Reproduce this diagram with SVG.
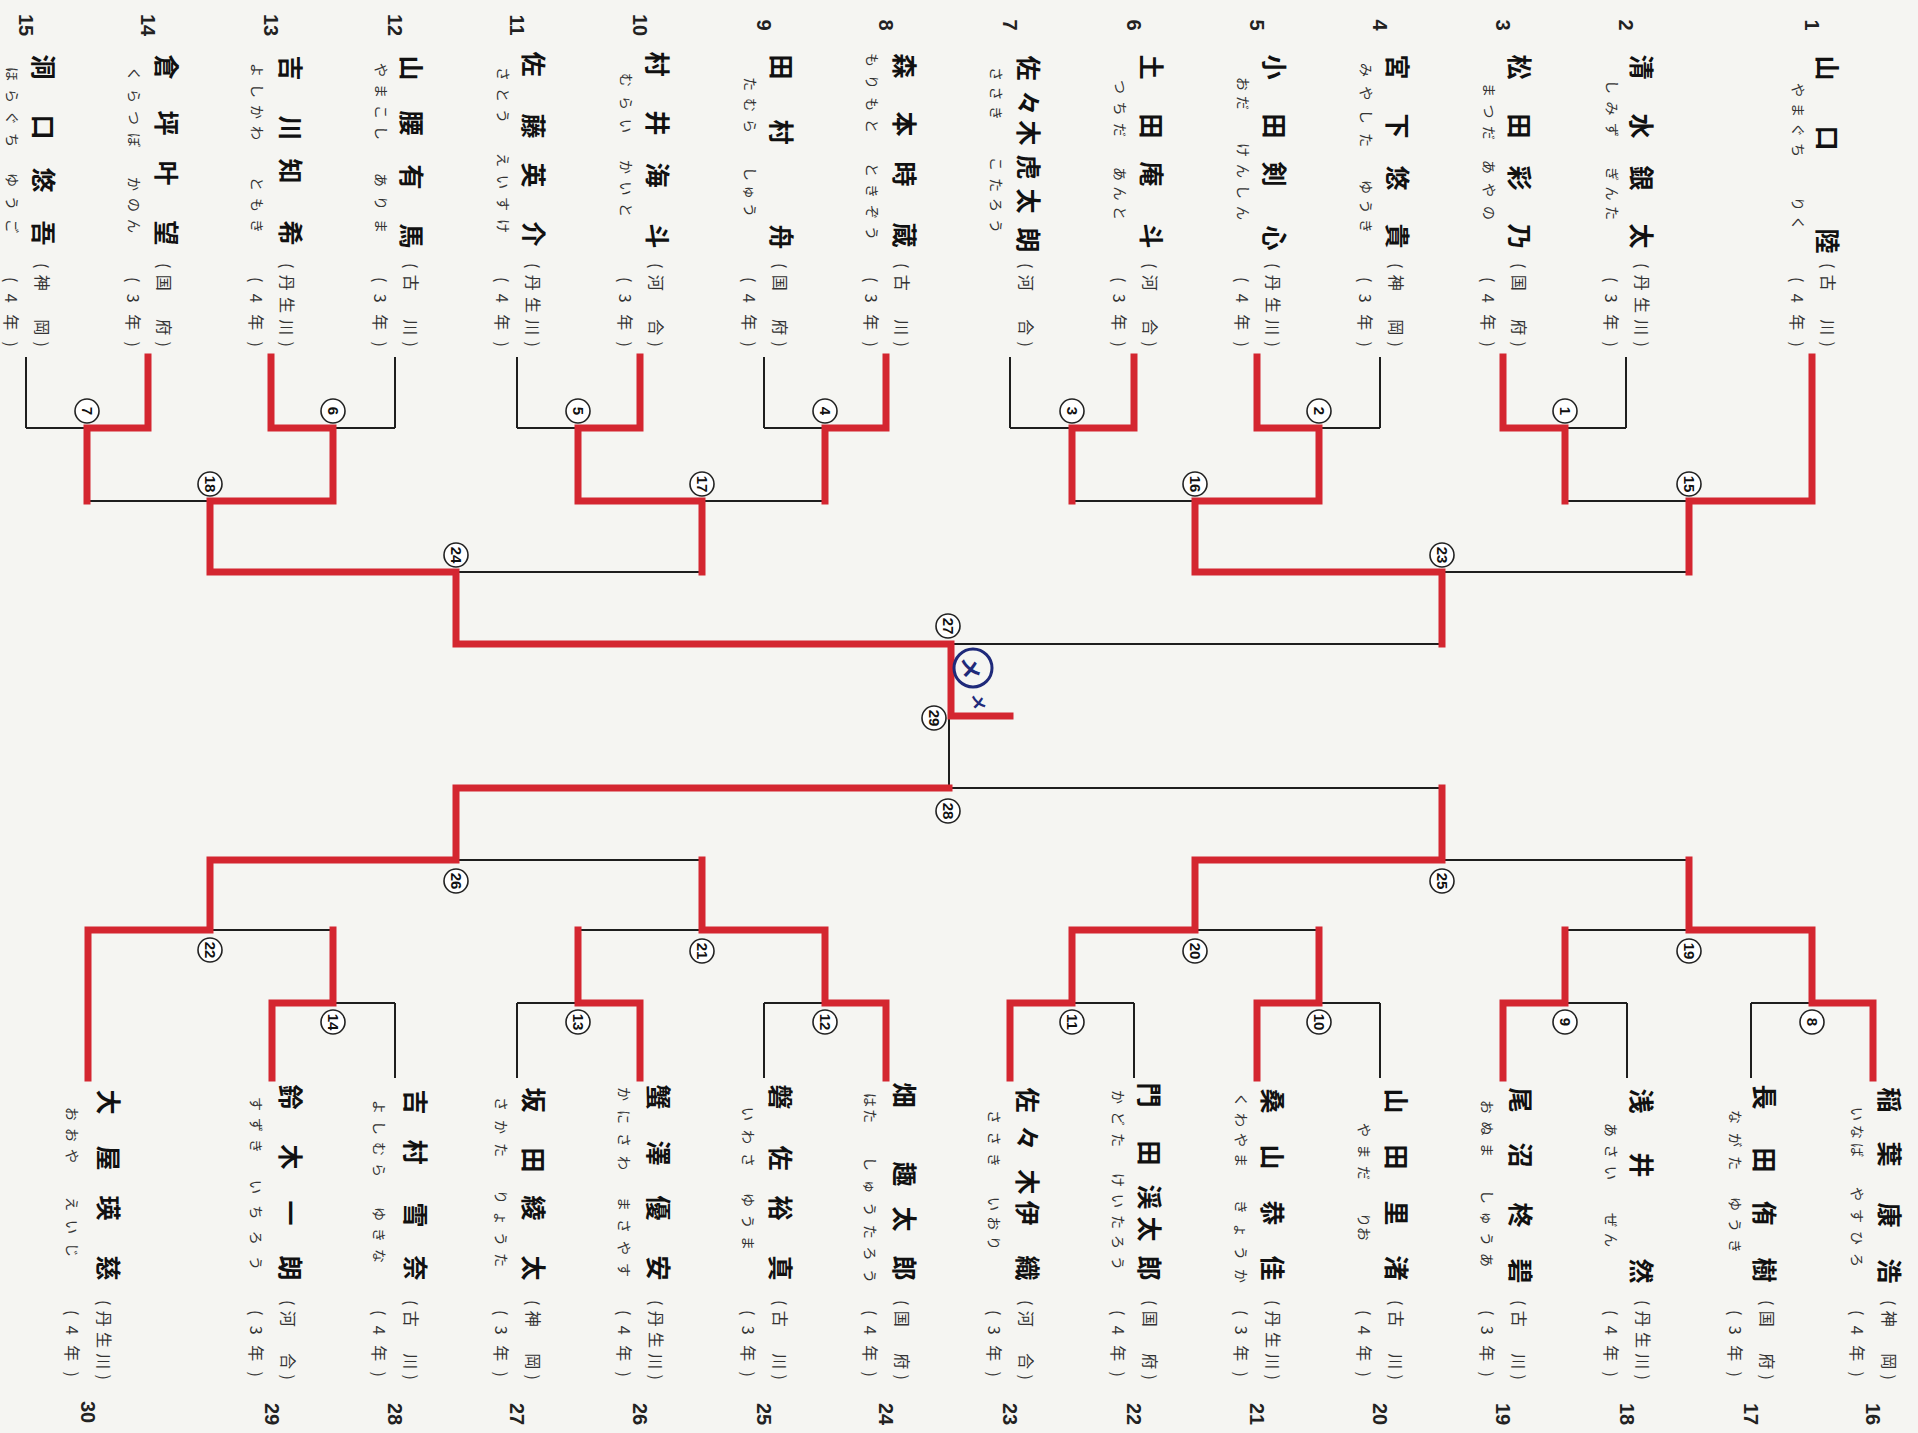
<svg xmlns="http://www.w3.org/2000/svg" width="1918" height="1433" viewBox="0 0 1918 1433">
<style>
.bk{stroke:#1e1e1e;stroke-width:2;fill:none}
.rd{stroke:#d42630;stroke-width:7;fill:none;stroke-linejoin:miter;stroke-linecap:square}
.nm{font-family:"Noto Sans CJK JP","Noto Sans CJK SC",sans-serif;font-size:25px;font-weight:700;text-anchor:middle;dominant-baseline:central;fill:#111}
.fu{font-family:"Noto Sans CJK JP","Noto Sans CJK SC",sans-serif;font-size:14px;dominant-baseline:central;fill:#333}
.sc{font-family:"Noto Sans CJK JP","Noto Sans CJK SC",sans-serif;font-size:16px;dominant-baseline:central;fill:#333}
.no{font-family:"Liberation Sans",Arial,sans-serif;font-size:20px;font-weight:700;text-anchor:middle;dominant-baseline:central;fill:#222}
.cc{fill:#fff;stroke:#222;stroke-width:1.6}
.cn{font-family:"Liberation Sans",Arial,sans-serif;font-size:15px;font-weight:700;text-anchor:middle;dominant-baseline:central;fill:#111}
.bl{fill:none;stroke:#1f2a7a;stroke-width:3}
.bt{font-family:"Noto Sans CJK JP",sans-serif;font-weight:700;text-anchor:middle;dominant-baseline:central;fill:#1f2a7a}
</style>
<rect width="1918" height="1433" fill="#f5f5f2"/>

<g id="connectors">
<path class="bk" d="M26,357V428 M148,357V428 M271,357V428 M395,357V428 M517,357V428 M640,357V428 M764,357V428 M886,357V428 M1010,357V428 M1134,357V428 M1257,357V428 M1380,357V428 M1503,357V428 M1626,357V428 M1812,357V501
M26,428H148 M271,428H395 M517,428H640 M764,428H886 M1010,428H1134 M1257,428H1380 M1503,428H1626
M87,428V501 M333,428V501 M578,428V501 M825,428V501 M1072,428V501 M1319,428V501 M1565,428V501
M87,501H333 M578,501H825 M1072,501H1319 M1565,501H1812
M210,501V572 M702,501V572 M1195,501V572 M1689,501V572
M210,572H702 M1195,572H1689
M456,572V644 M1442,572V644
M456,644H1442
M949,644V788
M272,1078V1003 M395,1078V1003 M517,1078V1003 M640,1078V1003 M764,1078V1003 M886,1078V1003 M1010,1078V1003 M1134,1078V1003 M1257,1078V1003 M1380,1078V1003 M1503,1078V1003 M1627,1078V1003 M1751,1078V1003 M1873,1078V1003 M88,1078V930
M272,1003H395 M517,1003H640 M764,1003H886 M1010,1003H1134 M1257,1003H1380 M1503,1003H1627 M1751,1003H1873
M333,1003V930 M578,1003V930 M825,1003V930 M1072,1003V930 M1319,1003V930 M1565,1003V930 M1812,1003V930
M88,930H333 M578,930H825 M1072,930H1319 M1565,930H1812
M210,930V860 M702,930V860 M1195,930V860 M1689,930V860
M210,860H702 M1195,860H1689
M456,860V788 M1442,860V788
M456,788H1442"/>
<path class="rd" d="M1503,357V428H1565V501"/>
<path class="rd" d="M1257,357V428H1319V501H1195V572H1442V644"/>
<path class="rd" d="M1134,357V428H1072V501"/>
<path class="rd" d="M1812,357V501H1689V572"/>
<path class="rd" d="M886,357V428H825V501"/>
<path class="rd" d="M640,357V428H578V501H702V572"/>
<path class="rd" d="M271,357V428H333V501H210V572H456V644H951V716H1010"/>
<path class="rd" d="M148,357V428H87V501"/>
<path class="rd" d="M1873,1078V1003H1812V930H1689V860"/>
<path class="rd" d="M1503,1078V1003H1565V930"/>
<path class="rd" d="M1257,1078V1003H1319V930"/>
<path class="rd" d="M1010,1078V1003H1072V930H1195V860H1442V788"/>
<path class="rd" d="M886,1078V1003H825V930H702V860"/>
<path class="rd" d="M640,1078V1003H578V930"/>
<path class="rd" d="M272,1078V1003H333V930"/>
<path class="rd" d="M88,1078V930H210V860H456V788H949"/>
</g>

<g id="matches">
<g id="m1"><circle class="cc" cx="1565" cy="411" r="12"/><text class="cn" transform="translate(1565,411) rotate(90)">1</text></g>
<g id="m2"><circle class="cc" cx="1319" cy="411" r="12"/><text class="cn" transform="translate(1319,411) rotate(90)">2</text></g>
<g id="m3"><circle class="cc" cx="1072" cy="411" r="12"/><text class="cn" transform="translate(1072,411) rotate(90)">3</text></g>
<g id="m4"><circle class="cc" cx="825" cy="411" r="12"/><text class="cn" transform="translate(825,411) rotate(90)">4</text></g>
<g id="m5"><circle class="cc" cx="578" cy="411" r="12"/><text class="cn" transform="translate(578,411) rotate(90)">5</text></g>
<g id="m6"><circle class="cc" cx="333" cy="411" r="12"/><text class="cn" transform="translate(333,411) rotate(90)">6</text></g>
<g id="m7"><circle class="cc" cx="87" cy="411" r="12"/><text class="cn" transform="translate(87,411) rotate(90)">7</text></g>
<g id="m15"><circle class="cc" cx="1689" cy="484" r="12"/><text class="cn" transform="translate(1689,484) rotate(90)">15</text></g>
<g id="m16"><circle class="cc" cx="1195" cy="484" r="12"/><text class="cn" transform="translate(1195,484) rotate(90)">16</text></g>
<g id="m17"><circle class="cc" cx="702" cy="484" r="12"/><text class="cn" transform="translate(702,484) rotate(90)">17</text></g>
<g id="m18"><circle class="cc" cx="210" cy="484" r="12"/><text class="cn" transform="translate(210,484) rotate(90)">18</text></g>
<g id="m23"><circle class="cc" cx="1442" cy="555" r="12"/><text class="cn" transform="translate(1442,555) rotate(90)">23</text></g>
<g id="m24"><circle class="cc" cx="456" cy="555" r="12"/><text class="cn" transform="translate(456,555) rotate(90)">24</text></g>
<g id="m27"><circle class="cc" cx="948" cy="626" r="12"/><text class="cn" transform="translate(948,626) rotate(90)">27</text></g>
<g id="m8"><circle class="cc" cx="1812" cy="1022" r="12"/><text class="cn" transform="translate(1812,1022) rotate(90)">8</text></g>
<g id="m9"><circle class="cc" cx="1565" cy="1022" r="12"/><text class="cn" transform="translate(1565,1022) rotate(90)">9</text></g>
<g id="m10"><circle class="cc" cx="1319" cy="1022" r="12"/><text class="cn" transform="translate(1319,1022) rotate(90)">10</text></g>
<g id="m11"><circle class="cc" cx="1072" cy="1022" r="12"/><text class="cn" transform="translate(1072,1022) rotate(90)">11</text></g>
<g id="m12"><circle class="cc" cx="825" cy="1022" r="12"/><text class="cn" transform="translate(825,1022) rotate(90)">12</text></g>
<g id="m13"><circle class="cc" cx="578" cy="1022" r="12"/><text class="cn" transform="translate(578,1022) rotate(90)">13</text></g>
<g id="m14"><circle class="cc" cx="333" cy="1022" r="12"/><text class="cn" transform="translate(333,1022) rotate(90)">14</text></g>
<g id="m19"><circle class="cc" cx="1689" cy="951" r="12"/><text class="cn" transform="translate(1689,951) rotate(90)">19</text></g>
<g id="m20"><circle class="cc" cx="1195" cy="951" r="12"/><text class="cn" transform="translate(1195,951) rotate(90)">20</text></g>
<g id="m21"><circle class="cc" cx="702" cy="951" r="12"/><text class="cn" transform="translate(702,951) rotate(90)">21</text></g>
<g id="m22"><circle class="cc" cx="210" cy="950" r="12"/><text class="cn" transform="translate(210,950) rotate(90)">22</text></g>
<g id="m25"><circle class="cc" cx="1442" cy="881" r="12"/><text class="cn" transform="translate(1442,881) rotate(90)">25</text></g>
<g id="m26"><circle class="cc" cx="456" cy="881" r="12"/><text class="cn" transform="translate(456,881) rotate(90)">26</text></g>
<g id="m28"><circle class="cc" cx="948" cy="811" r="12"/><text class="cn" transform="translate(948,811) rotate(90)">28</text></g>
<g id="m29"><circle class="cc" cx="934" cy="718" r="12"/><text class="cn" transform="translate(934,718) rotate(90)">29</text></g>
</g>

<g id="score">
<circle class="bl" cx="973" cy="668" r="19"/>
<text class="bt" font-size="22" transform="translate(973,668) rotate(90)">メ</text>
<text class="bt" font-size="16" transform="translate(980,702) rotate(90)">メ</text>
</g>

<g id="p1" transform="translate(1812,0) rotate(90)"><text class="no" x="25" y="0">1</text><text class="nm" x="68 138 241" y="-17">山口陸</text><text class="fu" x="83" y="13" textLength="74">やまぐち</text><text class="fu" x="197" y="13" textLength="33">りく</text><text class="sc" x="263" y="-17" textLength="84">(古　川)</text><text class="sc" x="277" y="14" textLength="70">(4年)</text></g>
<g id="p2" transform="translate(1626,0) rotate(90)"><text class="no" x="25" y="0">2</text><text class="nm" x="67 126 178 236" y="-17">清水銀太</text><text class="fu" x="80" y="13" textLength="57">しみず</text><text class="fu" x="167" y="13" textLength="53">ぎんた</text><text class="sc" x="263" y="-17" textLength="84">(丹生川)</text><text class="sc" x="277" y="14" textLength="70">(3年)</text></g>
<g id="p3" transform="translate(1503,0) rotate(90)"><text class="no" x="25" y="0">3</text><text class="nm" x="67 126 178 236" y="-18">松田彩乃</text><text class="fu" x="83" y="13" textLength="57">まつだ</text><text class="fu" x="160" y="13" textLength="60">あやの</text><text class="sc" x="263" y="-17" textLength="84">(国　府)</text><text class="sc" x="277" y="14" textLength="70">(4年)</text></g>
<g id="p4" transform="translate(1380,0) rotate(90)"><text class="no" x="25" y="0">4</text><text class="nm" x="67 126 178 236" y="-19">宮下悠貴</text><text class="fu" x="63" y="13" textLength="84">みやした</text><text class="fu" x="180" y="13" textLength="53">ゆうき</text><text class="sc" x="263" y="-17" textLength="84">(神　岡)</text><text class="sc" x="277" y="14" textLength="70">(3年)</text></g>
<g id="p5" transform="translate(1257,0) rotate(90)"><text class="no" x="25" y="0">5</text><text class="nm" x="67 126 174 238" y="-19">小田剣心</text><text class="fu" x="77" y="13" textLength="33">おだ</text><text class="fu" x="143" y="13" textLength="77">けんしん</text><text class="sc" x="263" y="-17" textLength="84">(丹生川)</text><text class="sc" x="277" y="14" textLength="70">(4年)</text></g>
<g id="p6" transform="translate(1134,0) rotate(90)"><text class="no" x="25" y="0">6</text><text class="nm" x="67 126 174 236" y="-19">土田庵斗</text><text class="fu" x="80" y="13" textLength="57">つちだ</text><text class="fu" x="167" y="13" textLength="53">あんと</text><text class="sc" x="263" y="-17" textLength="84">(河　合)</text><text class="sc" x="277" y="14" textLength="70">(3年)</text></g>
<g id="p7" transform="translate(1010,0) rotate(90)"><text class="no" x="25" y="0">7</text><text class="nm" x="68 103 133 167 201 240" y="-20">佐々木虎太朗</text><text class="fu" x="67" y="13" textLength="53">ささき</text><text class="fu" x="157" y="13" textLength="76">こたろう</text><text class="sc" x="263" y="-17" textLength="84">(河　合)</text></g>
<g id="p8" transform="translate(886,0) rotate(90)"><text class="no" x="25" y="0">8</text><text class="nm" x="66 124 174 235" y="-20">森本時蔵</text><text class="fu" x="53" y="13" textLength="80">もりもと</text><text class="fu" x="163" y="13" textLength="77">ときぞう</text><text class="sc" x="263" y="-17" textLength="84">(古　川)</text><text class="sc" x="277" y="14" textLength="70">(3年)</text></g>
<g id="p9" transform="translate(764,0) rotate(90)"><text class="no" x="25" y="0">9</text><text class="nm" x="67 132 237" y="-19">田村舟</text><text class="fu" x="77" y="13" textLength="56">たむら</text><text class="fu" x="167" y="13" textLength="50">しゅう</text><text class="sc" x="263" y="-17" textLength="84">(国　府)</text><text class="sc" x="277" y="14" textLength="70">(4年)</text></g>
<g id="p10" transform="translate(640,0) rotate(90)"><text class="no" x="25" y="0">10</text><text class="nm" x="64 123 175 236" y="-19">村井海斗</text><text class="fu" x="73" y="13" textLength="60">むらい</text><text class="fu" x="160" y="13" textLength="57">かいと</text><text class="sc" x="263" y="-17" textLength="84">(河　合)</text><text class="sc" x="277" y="14" textLength="70">(3年)</text></g>
<g id="p11" transform="translate(517,0) rotate(90)"><text class="no" x="25" y="0">11</text><text class="nm" x="64 126 175 234" y="-18">佐藤英介</text><text class="fu" x="67" y="13" textLength="56">さとう</text><text class="fu" x="153" y="13" textLength="80">えいすけ</text><text class="sc" x="263" y="-17" textLength="84">(丹生川)</text><text class="sc" x="277" y="14" textLength="70">(4年)</text></g>
<g id="p12" transform="translate(395,0) rotate(90)"><text class="no" x="25" y="0">12</text><text class="nm" x="68 123 177 236" y="-18">山腰有馬</text><text class="fu" x="63" y="13" textLength="77">やまこし</text><text class="fu" x="173" y="13" textLength="60">ありま</text><text class="sc" x="263" y="-17" textLength="84">(古　川)</text><text class="sc" x="277" y="14" textLength="70">(3年)</text></g>
<g id="p13" transform="translate(271,0) rotate(90)"><text class="no" x="25" y="0">13</text><text class="nm" x="68 128 171 233" y="-21">吉川知希</text><text class="fu" x="63" y="13" textLength="77">よしかわ</text><text class="fu" x="177" y="13" textLength="56">ともき</text><text class="sc" x="263" y="-17" textLength="84">(丹生川)</text><text class="sc" x="277" y="14" textLength="70">(4年)</text></g>
<g id="p14" transform="translate(148,0) rotate(90)"><text class="no" x="25" y="0">14</text><text class="nm" x="67 123 173 233" y="-20">倉坪叶望</text><text class="fu" x="67" y="13" textLength="80">くらつぼ</text><text class="fu" x="177" y="13" textLength="56">かのん</text><text class="sc" x="263" y="-17" textLength="84">(国　府)</text><text class="sc" x="277" y="14" textLength="70">(3年)</text></g>
<g id="p15" transform="translate(26,0) rotate(90)"><text class="no" x="25" y="0">15</text><text class="nm" x="67 127 180 233" y="-19">洞口悠吾</text><text class="fu" x="67" y="13" textLength="80">ほらぐち</text><text class="fu" x="173" y="13" textLength="60">ゆうご</text><text class="sc" x="263" y="-17" textLength="84">(神　岡)</text><text class="sc" x="277" y="14" textLength="70">(4年)</text></g>

<g id="p16" transform="translate(1873,0) rotate(90)"><text class="nm" x="1100 1154 1215 1271" y="-18">稲葉康浩</text><text class="fu" x="1107" y="15" textLength="50">いなば</text><text class="fu" x="1187" y="15" textLength="80">やすひろ</text><text class="sc" x="1300" y="-17" textLength="80">(神　岡)</text><text class="sc" x="1310" y="15" textLength="67">(4年)</text><text class="no" x="1414" y="0">16</text></g>
<g id="p17" transform="translate(1751,0) rotate(90)"><text class="nm" x="1097 1160 1213 1270" y="-15">長田侑樹</text><text class="fu" x="1110" y="15" textLength="60">ながた</text><text class="fu" x="1197" y="15" textLength="56">ゆうき</text><text class="sc" x="1300" y="-17" textLength="80">(国　府)</text><text class="sc" x="1310" y="15" textLength="67">(3年)</text><text class="no" x="1414" y="0">17</text></g>
<g id="p18" transform="translate(1627,0) rotate(90)"><text class="nm" x="1101 1165 1271" y="-16">浅井然</text><text class="fu" x="1123" y="15" textLength="57">あさい</text><text class="fu" x="1213" y="15" textLength="34">ぜん</text><text class="sc" x="1300" y="-17" textLength="80">(丹生川)</text><text class="sc" x="1310" y="15" textLength="67">(4年)</text><text class="no" x="1414" y="0">18</text></g>
<g id="p19" transform="translate(1503,0) rotate(90)"><text class="nm" x="1100 1155 1215 1271" y="-19">尾沼柊碧</text><text class="fu" x="1100" y="15" textLength="57">おぬま</text><text class="fu" x="1190" y="15" textLength="77">しゅうあ</text><text class="sc" x="1300" y="-17" textLength="80">(古　川)</text><text class="sc" x="1310" y="15" textLength="67">(3年)</text><text class="no" x="1414" y="0">19</text></g>
<g id="p20" transform="translate(1380,0) rotate(90)"><text class="nm" x="1101 1157 1213 1268" y="-18">山田里渚</text><text class="fu" x="1123" y="15" textLength="57">やまだ</text><text class="fu" x="1213" y="15" textLength="28">りお</text><text class="sc" x="1300" y="-17" textLength="80">(古　川)</text><text class="sc" x="1310" y="15" textLength="67">(4年)</text><text class="no" x="1414" y="0">20</text></g>
<g id="p21" transform="translate(1257,0) rotate(90)"><text class="nm" x="1101 1157 1213 1268" y="-17">桑山恭佳</text><text class="fu" x="1093" y="15" textLength="74">くわやま</text><text class="fu" x="1200" y="15" textLength="83">きょうか</text><text class="sc" x="1300" y="-17" textLength="80">(丹生川)</text><text class="sc" x="1310" y="15" textLength="67">(3年)</text><text class="no" x="1414" y="0">21</text></g>
<g id="p22" transform="translate(1134,0) rotate(90)"><text class="nm" x="1095 1153 1197 1229 1268" y="-17">門田渓太郎</text><text class="fu" x="1090" y="15" textLength="57">かどた</text><text class="fu" x="1173" y="15" textLength="97">けいたろう</text><text class="sc" x="1300" y="-17" textLength="80">(国　府)</text><text class="sc" x="1310" y="15" textLength="67">(4年)</text><text class="no" x="1414" y="0">22</text></g>
<g id="p23" transform="translate(1010,0) rotate(90)"><text class="nm" x="1100 1138 1182 1213 1268" y="-19">佐々木伊織</text><text class="fu" x="1110" y="15" textLength="57">ささき</text><text class="fu" x="1197" y="15" textLength="53">いおり</text><text class="sc" x="1300" y="-17" textLength="80">(河　合)</text><text class="sc" x="1310" y="15" textLength="67">(3年)</text><text class="no" x="1414" y="0">23</text></g>
<g id="p24" transform="translate(886,0) rotate(90)"><text class="nm" x="1095 1174 1219 1268" y="-20">畑趣太郎</text><text class="fu" x="1093" y="15" textLength="30">はた</text><text class="fu" x="1157" y="15" textLength="126">しゅうたろう</text><text class="sc" x="1300" y="-17" textLength="80">(国　府)</text><text class="sc" x="1310" y="15" textLength="67">(4年)</text><text class="no" x="1414" y="0">24</text></g>
<g id="p25" transform="translate(764,0) rotate(90)"><text class="nm" x="1097 1158 1208 1268" y="-18">磐佐裕真</text><text class="fu" x="1107" y="15" textLength="60">いわさ</text><text class="fu" x="1193" y="15" textLength="57">ゆうま</text><text class="sc" x="1300" y="-17" textLength="80">(古　川)</text><text class="sc" x="1310" y="15" textLength="67">(3年)</text><text class="no" x="1414" y="0">25</text></g>
<g id="p26" transform="translate(640,0) rotate(90)"><text class="nm" x="1097 1153 1208 1268" y="-20">蟹澤優安</text><text class="fu" x="1087" y="15" textLength="83">かにさわ</text><text class="fu" x="1197" y="15" textLength="80">まさやす</text><text class="sc" x="1300" y="-17" textLength="80">(丹生川)</text><text class="sc" x="1310" y="15" textLength="67">(4年)</text><text class="no" x="1414" y="0">26</text></g>
<g id="p27" transform="translate(517,0) rotate(90)"><text class="nm" x="1100 1160 1208 1268" y="-18">坂田綾太</text><text class="fu" x="1097" y="15" textLength="60">さかた</text><text class="fu" x="1190" y="15" textLength="77">りょうた</text><text class="sc" x="1300" y="-17" textLength="80">(神　岡)</text><text class="sc" x="1310" y="15" textLength="67">(3年)</text><text class="no" x="1414" y="0">27</text></g>
<g id="p28" transform="translate(395,0) rotate(90)"><text class="nm" x="1102 1152 1215 1268" y="-22">吉村雪奈</text><text class="fu" x="1100" y="15" textLength="77">よしむら</text><text class="fu" x="1207" y="15" textLength="56">ゆきな</text><text class="sc" x="1300" y="-17" textLength="80">(古　川)</text><text class="sc" x="1310" y="15" textLength="67">(4年)</text><text class="no" x="1414" y="0">28</text></g>
<g id="p29" transform="translate(272,0) rotate(90)"><text class="nm" x="1097 1157 1213 1268" y="-20">鈴木一朗</text><text class="fu" x="1097" y="15" textLength="56">すずき</text><text class="fu" x="1180" y="15" textLength="90">いちろう</text><text class="sc" x="1300" y="-17" textLength="80">(河　合)</text><text class="sc" x="1310" y="15" textLength="67">(3年)</text><text class="no" x="1414" y="0">29</text></g>
<g id="p30" transform="translate(88,0) rotate(90)"><text class="nm" x="1102 1158 1208 1268" y="-22">大屋瑛慈</text><text class="fu" x="1107" y="15" textLength="56">おおや</text><text class="fu" x="1197" y="15" textLength="60">えいじ</text><text class="sc" x="1300" y="-17" textLength="80">(丹生川)</text><text class="sc" x="1310" y="15" textLength="67">(4年)</text><text class="no" x="1412" y="0">30</text></g>
</svg>
